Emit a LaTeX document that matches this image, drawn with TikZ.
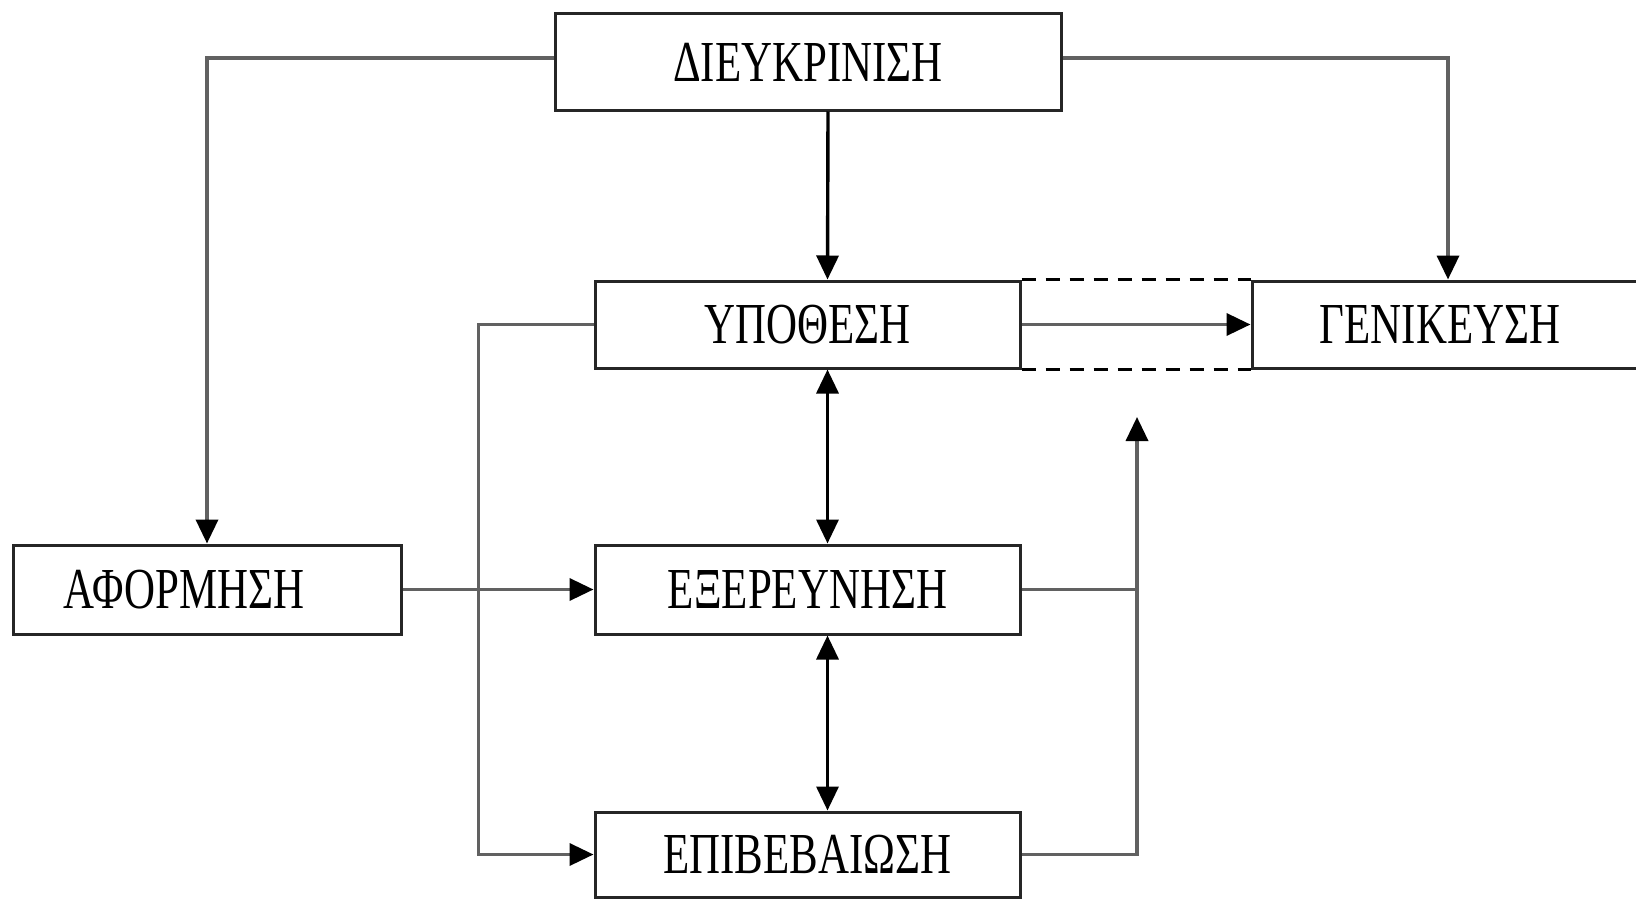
\documentclass[tikz,border=0pt]{standalone}
\usepackage{fontspec}
\newfontfamily\grfont[FakeStretch=0.74]{Liberation Serif}
\usetikzlibrary{arrows.meta}
\begin{document}
\begin{tikzpicture}[x=1pt,y=-1pt,
  box/.style={draw=black!85, line width=3pt, fill=white, inner sep=0pt,
    font=\grfont\fontsize{58}{60}\selectfont},
  conn/.style={draw=black!62, line width=3.6pt},
  mainconn/.style={draw=black, line width=3.4pt},
  tip/.style={-{Triangle[length=24pt,width=22pt,color=black]}},
  tips/.style={{Triangle[length=24pt,width=22pt,color=black]}-{Triangle[length=24pt,width=22pt,color=black]}},
  dashline/.style={draw=black, line width=3pt, dash pattern=on 14pt off 10pt}]
\useasboundingbox (0,0) rectangle (1636,899);
\fill[white] (0,0) rectangle (1636,899);

\node[box, minimum width=506pt, minimum height=96pt] (diey) at (808,62) {ΔΙΕΥΚΡΙΝΙΣΗ};
\node[box, minimum width=425pt, minimum height=87pt] (ypo) at (807.5,324.5) {ΥΠΟΘΕΣΗ};
\node[box, minimum width=440pt, minimum height=87pt] (gen) at (1472,324.5) {\hspace*{-64pt}ΓΕΝΙΚΕΥΣΗ};
\node[box, minimum width=388pt, minimum height=89pt] (afo) at (207,589.5) {\hspace*{-46pt}ΑΦΟΡΜΗΣΗ};
\node[box, minimum width=425pt, minimum height=89pt] (exe) at (807.5,589.5) {ΕΞΕΡΕΥΝΗΣΗ};
\node[box, minimum width=425pt, minimum height=85pt] (epi) at (807.5,854.5) {ΕΠΙΒΕΒΑΙΩΣΗ};

\coordinate (j) at (1137,417);

\draw[dashline] (ypo.north east) -- (gen.north west);
\draw[dashline] (ypo.south east) -- (gen.south west);

\draw[conn,tip] ([yshift=4pt]diey.west) -| (afo.north);
\draw[conn,tip] ([yshift=4pt]diey.east) -| ([xshift=-24pt]gen.north);
\draw[mainconn,tip] ([xshift=20pt]diey.south) -- ([xshift=20pt]ypo.north);
\draw[mainconn,tips] ([xshift=20pt]ypo.south) -- ([xshift=20pt]exe.north);
\draw[mainconn,tips] ([xshift=20pt]exe.south) -- ([xshift=20pt]epi.north);
\draw[conn,tip] (ypo.east) -- (gen.west);
\draw[conn,tip] (afo.east) -- (exe.west);
\draw[conn,tip] (ypo.west) -- ++(-115,0) |- (epi.west);
\draw[conn] (exe.east) -- (exe.east -| j);
\draw[conn,tip] (epi.east) -| (j);
\end{tikzpicture}
\end{document}
